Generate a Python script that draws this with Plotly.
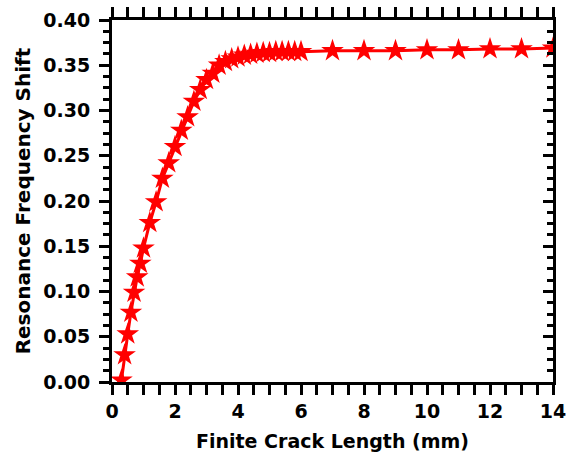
import plotly.graph_objects as go

crack_length = [0.3, 0.4, 0.5, 0.6, 0.7, 0.8, 0.9, 1.0, 1.2, 1.4, 1.6, 1.8, 2.0, 2.2, 2.4, 2.6, 2.8, 3.0,
                3.2, 3.4, 3.6, 3.8, 4.0, 4.2, 4.4, 4.6, 4.8, 5.0, 5.2, 5.4, 5.6, 5.8, 6.0,
                7, 8, 9, 10, 11, 12, 13, 14]
freq_shift = [0.002, 0.030, 0.053, 0.077, 0.099, 0.116, 0.131, 0.148, 0.176, 0.199, 0.225, 0.242, 0.260,
              0.278, 0.293, 0.310, 0.323, 0.334, 0.341, 0.350, 0.354, 0.357, 0.359, 0.361, 0.362, 0.363,
              0.364, 0.364, 0.365, 0.365, 0.365, 0.365, 0.365,
              0.366, 0.366, 0.366, 0.367, 0.367, 0.368, 0.368, 0.369]

x_ticks = [0, 2, 4, 6, 8, 10, 12, 14]
y_ticks = [0.00, 0.05, 0.10, 0.15, 0.20, 0.25, 0.30, 0.35, 0.40]

FONT = "DejaVu Sans"

fig = go.Figure()
fig.add_trace(go.Scatter(
    x=crack_length, y=freq_shift, mode="lines+markers",
    line=dict(color="#ff0000", width=3),
    marker=dict(symbol="star", size=17, color="#ff0000", line=dict(width=0)),
    showlegend=False,
))
# invisible trace so the mirrored right axis gets its own subplot
fig.add_trace(go.Scatter(x=[crack_length[0]], y=[freq_shift[0]], xaxis="x", yaxis="y2",
                         mode="markers", marker=dict(opacity=0), showlegend=False, hoverinfo="skip"))

tickfont = dict(family=FONT, size=19, color="black", weight="bold")
common = dict(showgrid=False, zeroline=False, showline=True, linecolor="black", linewidth=3,
              tickwidth=3, tickcolor="black", automargin=False)

x_step = x_ticks[1] - x_ticks[0]
y_step = y_ticks[1] - y_ticks[0]

fig.update_layout(
    width=566, height=455,
    margin=dict(l=112, r=13, t=20, b=73),
    plot_bgcolor="white", paper_bgcolor="white",
    xaxis=dict(range=[x_ticks[0], x_ticks[-1]], tickmode="linear", tick0=x_ticks[0], dtick=x_step,
               ticks="outside", ticklen=10, tickfont=tickfont, mirror="allticks",
               ticklabeloverflow="allow",
               minor=dict(ticks="outside", dtick=x_step / 4, ticklen=6, tickwidth=3, tickcolor="black"),
               title=dict(text="Finite Crack Length (mm)", font=dict(family=FONT, size=19, color="black", weight="bold"),
                          standoff=14),
               **common),
    yaxis=dict(range=[y_ticks[0], y_ticks[-1]], tickmode="linear", tick0=y_ticks[0], dtick=y_step,
               tickformat=".2f",
               ticks="outside", ticklen=10, tickfont=tickfont, ticklabelstandoff=5,
               minor=dict(ticks="outside", dtick=y_step / 4, ticklen=6, tickwidth=3, tickcolor="black"),
               title=dict(text="Resonance Frequency Shift", font=dict(family=FONT, size=20, color="black", weight="bold"),
                          standoff=8),
               **common),
    yaxis2=dict(range=[y_ticks[0], y_ticks[-1]], overlaying="y", side="right", anchor="x",
                tickmode="linear", tick0=y_ticks[0], dtick=y_step,
                showticklabels=False, ticks="inside", ticklen=10,
                minor=dict(ticks="inside", dtick=y_step / 4, ticklen=6, tickwidth=3, tickcolor="black"),
                **common),
)

fig.write_html("out.html")
